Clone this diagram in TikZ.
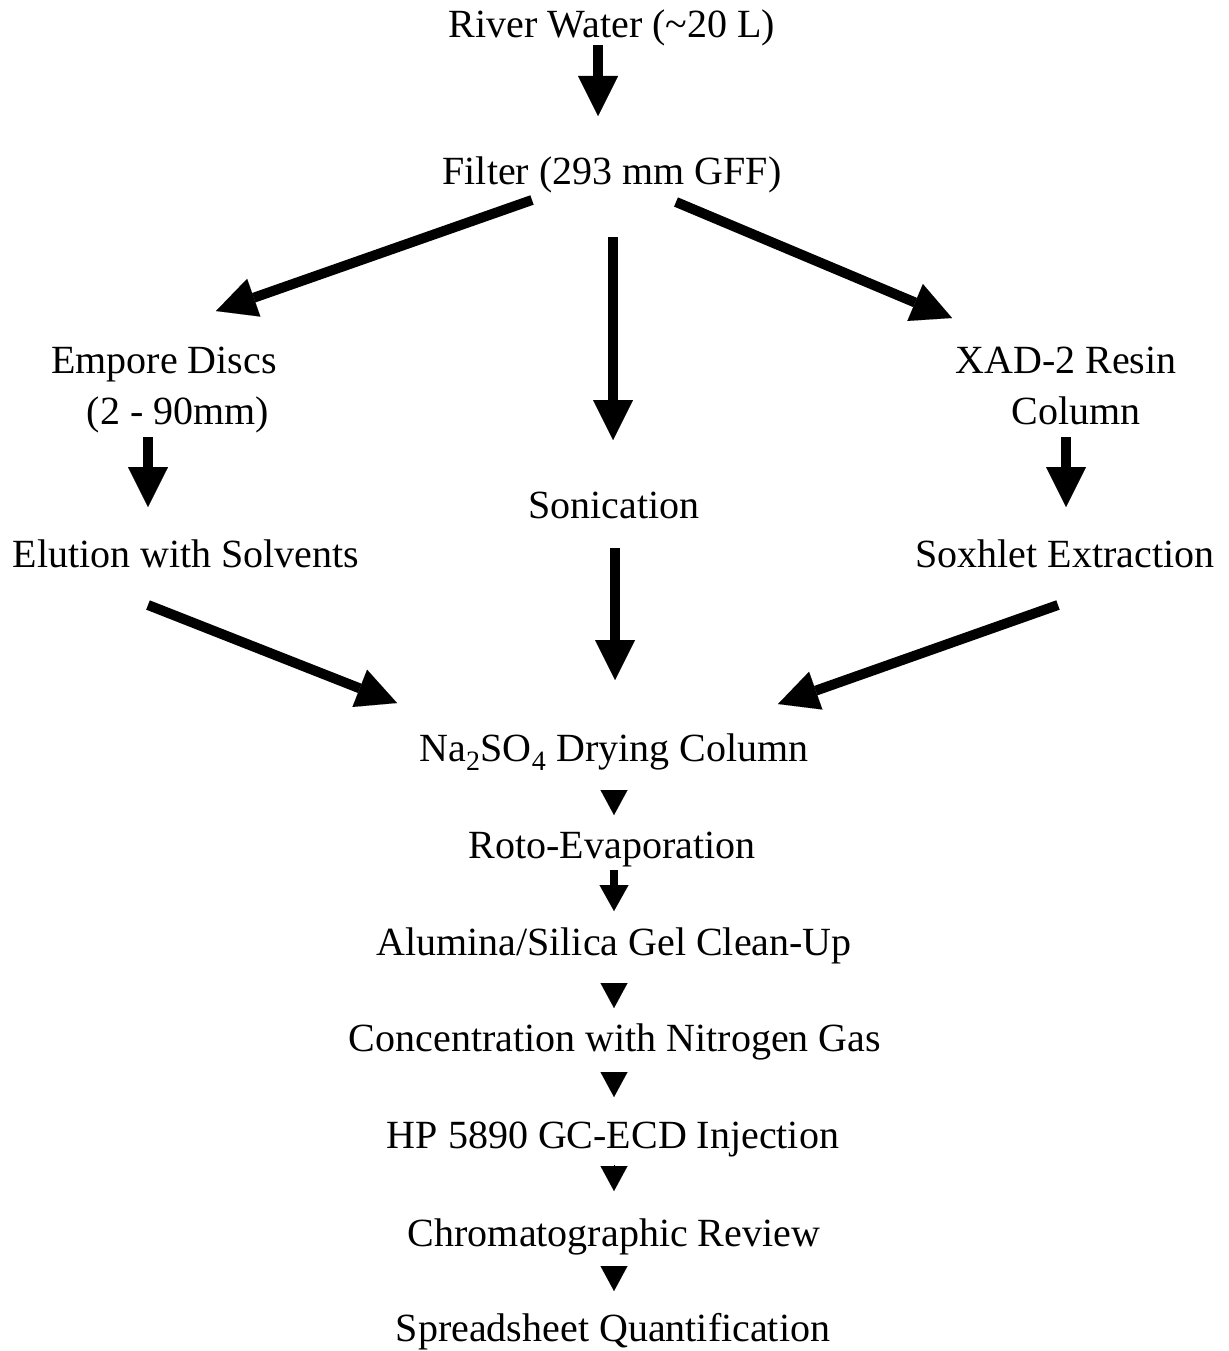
\documentclass[tikz,border=0pt]{standalone}
\usepackage{fontspec}
\setmainfont{Liberation Serif}
\usetikzlibrary{arrows.meta}
\tikzset{
  lbl/.style={anchor=base, inner sep=0pt, font=\fontsize{40}{48}\selectfont},
  bigarrow/.style={line width=10pt, -{Triangle[width=40pt,length=40pt,line width=0.01pt]}},
  midarrow/.style={line width=8pt, -{Triangle[width=29pt,length=26pt,line width=0.01pt]}},
  tri/.style={line width=0.1pt, -{Triangle[width=27pt,length=25pt,line width=0.01pt]}}
}
\begin{document}
\begin{tikzpicture}[x=1pt,y=-1pt]
\useasboundingbox (0,0) rectangle (1228,1351);
% texts
\node[lbl] (river) at (612,38) {River Water (\char"7E 20 L)};
\node[lbl] (filter) at (612,185) {Filter (293 mm GFF)};
\node[lbl] (empore) at (164,373) {Empore Discs};
\node[lbl] (empore2) at (178,424) {(2 - 90mm)};
\node[lbl] (xad) at (1066,373) {XAD-2 Resin};
\node[lbl] (xad2) at (1076,424) {Column};
\node[lbl] (sonic) at (614,518) {Sonication};
\node[lbl] (elution) at (186,567) {Elution with Solvents};
\node[lbl] (soxhlet) at (1065,567) {Soxhlet Extraction};
\node[lbl] (na) at (614,761) {Na\textsubscript{2}SO\textsubscript{4} Drying Column};
\node[lbl] (roto) at (612,858) {Roto-Evaporation};
\node[lbl] (alum) at (614,955) {Alumina/Silica Gel Clean-Up};
\node[lbl] (conc) at (615,1051) {Concentration with Nitrogen Gas};
\node[lbl] (hp) at (613,1148) {HP 5890 GC-ECD Injection};
\node[lbl] (chrom) at (614,1246) {Chromatographic Review};
\node[lbl] (spread) at (613,1341) {Spreadsheet Quantification};
% arrow endpoints
\coordinate (a1s) at (598,45);   \coordinate (a1e) at (598,116);
\coordinate (a2s) at (532,200);  \coordinate (a2e) at (216,311);
\coordinate (a3s) at (613,237);  \coordinate (a3e) at (613,440);
\coordinate (a4s) at (676,202);  \coordinate (a4e) at (952,318);
\coordinate (a5s) at (148,437);  \coordinate (a5e) at (148,507);
\coordinate (a6s) at (1066,437); \coordinate (a6e) at (1066,507);
\coordinate (a7s) at (615,548);  \coordinate (a7e) at (615,680);
\coordinate (a8s) at (148,605);  \coordinate (a8e) at (397,703);
\coordinate (a9s) at (1058,605); \coordinate (a9e) at (778,704);
\coordinate (b1s) at (614,790);  \coordinate (b1e) at (614,815);
\coordinate (b2s) at (614,870);  \coordinate (b2e) at (614,911);
\coordinate (b3s) at (614,983);  \coordinate (b3e) at (614,1008);
\coordinate (b4s) at (614,1072); \coordinate (b4e) at (614,1097);
\coordinate (b5s) at (614,1165); \coordinate (b5e) at (614,1191);
\coordinate (b6s) at (614,1267); \coordinate (b6e) at (614,1291);
% arrows
\draw[bigarrow] (a1s) -- (a1e);
\draw[bigarrow] (a2s) -- (a2e);
\draw[bigarrow] (a3s) -- (a3e);
\draw[bigarrow] (a4s) -- (a4e);
\draw[bigarrow] (a5s) -- (a5e);
\draw[bigarrow] (a6s) -- (a6e);
\draw[bigarrow] (a7s) -- (a7e);
\draw[bigarrow] (a8s) -- (a8e);
\draw[bigarrow] (a9s) -- (a9e);
\draw[tri] (b1s) -- (b1e);
\draw[midarrow] (b2s) -- (b2e);
\draw[tri] (b3s) -- (b3e);
\draw[tri] (b4s) -- (b4e);
\draw[tri] (b5s) -- (b5e);
\draw[tri] (b6s) -- (b6e);
\end{tikzpicture}
\end{document}
